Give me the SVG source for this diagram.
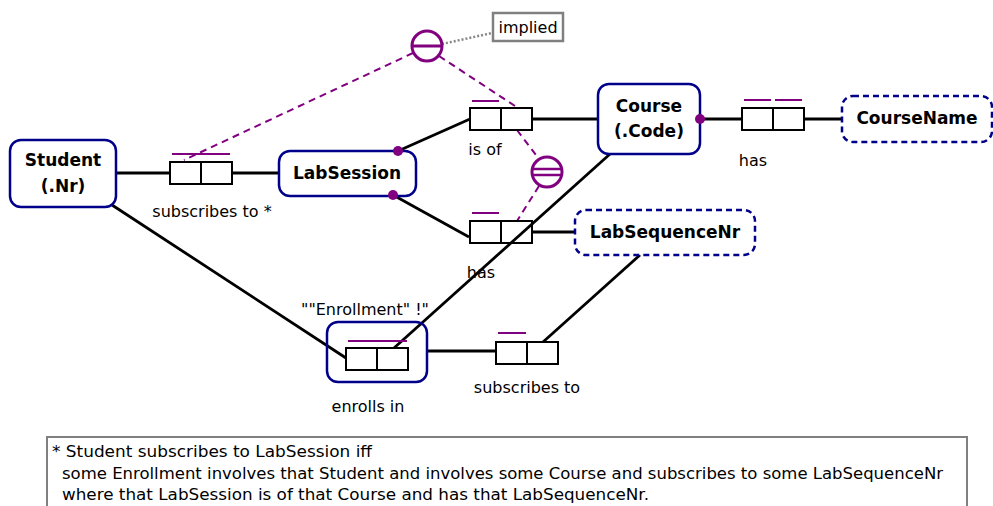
<svg xmlns="http://www.w3.org/2000/svg" width="993" height="506" viewBox="0 0 993 506">
<style>
.ent{fill:#fff;stroke:#00008b;stroke-width:2.5}
.obj{fill:none;stroke:#00008b;stroke-width:2.5}
.val{fill:#fff;stroke:#00008b;stroke-width:2.5;stroke-dasharray:6 4}
.nt{font-family:"DejaVu Sans","Liberation Sans",sans-serif;font-weight:bold;font-size:17px;fill:#000;text-anchor:middle}
.lbl{font-family:"DejaVu Sans","Liberation Sans",sans-serif;font-size:16px;fill:#000}
.role{fill:none;stroke:#000;stroke-width:2}
.uc{stroke:#800080;stroke-width:2}
.con{stroke:#000;stroke-width:2.8;fill:none}
.dash{stroke:#800080;stroke-width:2;stroke-dasharray:7 5;fill:none}
.cir{fill:#fff;stroke:#800080;stroke-width:3}
.dot{fill:#800080}
</style>
<rect width="993" height="506" fill="#fff"/>
<g id="connectors">
<line class="con" x1="116" y1="173" x2="170" y2="173"/>
<line class="con" x1="232" y1="173" x2="279" y2="173"/>
<line class="con" x1="398" y1="151" x2="470" y2="119"/>
<line class="con" x1="532" y1="119" x2="598" y2="119"/>
<line class="con" x1="700" y1="119" x2="742" y2="119"/>
<line class="con" x1="804" y1="119" x2="842" y2="119"/>
<line class="con" x1="393" y1="195" x2="469" y2="237"/>
<line class="con" x1="532" y1="232" x2="575" y2="232"/>
<line class="con" x1="610" y1="154" x2="394" y2="348"/>
<line class="con" x1="640" y1="255" x2="543" y2="342"/>
<line class="con" x1="112" y1="205" x2="346" y2="358"/>
<line class="con" x1="427" y1="351" x2="496" y2="351"/>
<line class="dash" x1="413" y1="53" x2="184" y2="160"/>
<line class="dash" x1="439" y1="56" x2="518" y2="108"/>
<line class="dash" x1="517" y1="130" x2="539" y2="159"/>
<line class="dash" x1="539" y1="186" x2="517" y2="221"/>
<line x1="442" y1="44" x2="492" y2="33" stroke="#888" stroke-width="2.5" stroke-dasharray="2 2"/>
</g>
<g id="student">
<rect class="ent" x="10" y="140" width="106" height="67" rx="11"/>
<text class="nt" x="63" y="166">Student</text>
<text class="nt" x="63" y="192">(.Nr)</text>
</g>
<g id="labsession">
<rect class="ent" x="279" y="151" width="137" height="45" rx="11"/>
<text class="nt" x="347" y="179">LabSession</text>
<circle class="dot" cx="398" cy="151" r="5"/>
<circle class="dot" cx="393" cy="195" r="5"/>
</g>
<g id="course">
<rect class="ent" x="598" y="84" width="102" height="70" rx="11"/>
<text class="nt" x="649" y="112">Course</text>
<text class="nt" x="649" y="137">(.Code)</text>
<circle class="dot" cx="700" cy="119" r="5"/>
</g>
<g id="coursename">
<rect class="val" x="842" y="96" width="150" height="46" rx="11"/>
<text class="nt" x="917" y="124">CourseName</text>
</g>
<g id="labsequencenr">
<rect class="val" x="575" y="210" width="180" height="45" rx="11"/>
<text class="nt" x="665" y="238">LabSequenceNr</text>
</g>
<g id="enrollment">
<rect class="obj" x="327" y="322" width="100" height="60" rx="11"/>
<rect class="role" x="346" y="348" width="31" height="22"/>
<rect class="role" x="377" y="348" width="31" height="22"/>
<line class="uc" x1="348" y1="341" x2="407" y2="341"/>
<text class="lbl" x="365" y="315" text-anchor="middle">""Enrollment" !"</text>
<text class="lbl" x="368" y="412" text-anchor="middle">enrolls in</text>
</g>
<g id="pred-subscribes-star">
<rect class="role" x="170" y="162" width="31" height="22"/>
<rect class="role" x="201" y="162" width="31" height="22"/>
<line class="uc" x1="172" y1="154" x2="230" y2="154"/>
<text class="lbl" x="212" y="217" text-anchor="middle">subscribes to *</text>
</g>
<g id="pred-isof">
<rect class="role" x="470" y="108" width="31" height="22"/>
<rect class="role" x="501" y="108" width="31" height="22"/>
<line class="uc" x1="472" y1="101" x2="499" y2="101"/>
<text class="lbl" x="485" y="155" text-anchor="middle">is of</text>
</g>
<g id="pred-has-coursename">
<rect class="role" x="742" y="108" width="31" height="22"/>
<rect class="role" x="773" y="108" width="31" height="22"/>
<line class="uc" x1="744" y1="100" x2="771" y2="100"/>
<line class="uc" x1="775" y1="100" x2="802" y2="100"/>
<text class="lbl" x="753" y="166" text-anchor="middle">has</text>
</g>
<g id="pred-has-labseq">
<rect class="role" x="470" y="221" width="31" height="22"/>
<rect class="role" x="501" y="221" width="31" height="22"/>
<line class="uc" x1="472" y1="213" x2="499" y2="213"/>
<text class="lbl" x="481" y="278" text-anchor="middle">has</text>
</g>
<g id="pred-subscribes">
<rect class="role" x="496" y="342" width="31" height="22"/>
<rect class="role" x="527" y="342" width="31" height="22"/>
<line class="uc" x1="498" y1="333" x2="526" y2="333"/>
<text class="lbl" x="527" y="393" text-anchor="middle">subscribes to</text>
</g>
<g id="subset-constraint">
<circle class="cir" cx="427" cy="46" r="15"/>
<line x1="412" y1="46" x2="442" y2="46" stroke="#800080" stroke-width="3"/>
</g>
<g id="equality-constraint">
<circle class="cir" cx="547" cy="172" r="15"/>
<line x1="533" y1="169" x2="561" y2="169" stroke="#800080" stroke-width="2.5"/>
<line x1="533" y1="175" x2="561" y2="175" stroke="#800080" stroke-width="2.5"/>
</g>
<g id="implied-note">
<rect x="493" y="13" width="70" height="28" fill="#fff" stroke="#808080" stroke-width="2.5"/>
<text class="lbl" x="528" y="33" text-anchor="middle">implied</text>
</g>
<g id="derivation-note">
<rect x="47" y="437" width="920" height="75" fill="#fff" stroke="#808080" stroke-width="2"/>
<text class="lbl" x="52" y="457" textLength="320" lengthAdjust="spacingAndGlyphs">* Student subscribes to LabSession iff</text>
<text class="lbl" x="62" y="479" textLength="881" lengthAdjust="spacingAndGlyphs">some Enrollment involves that Student and involves some Course and subscribes to some LabSequenceNr</text>
<text class="lbl" x="62" y="500" textLength="587" lengthAdjust="spacingAndGlyphs">where that LabSession is of that Course and has that LabSequenceNr.</text>
</g>
</svg>
